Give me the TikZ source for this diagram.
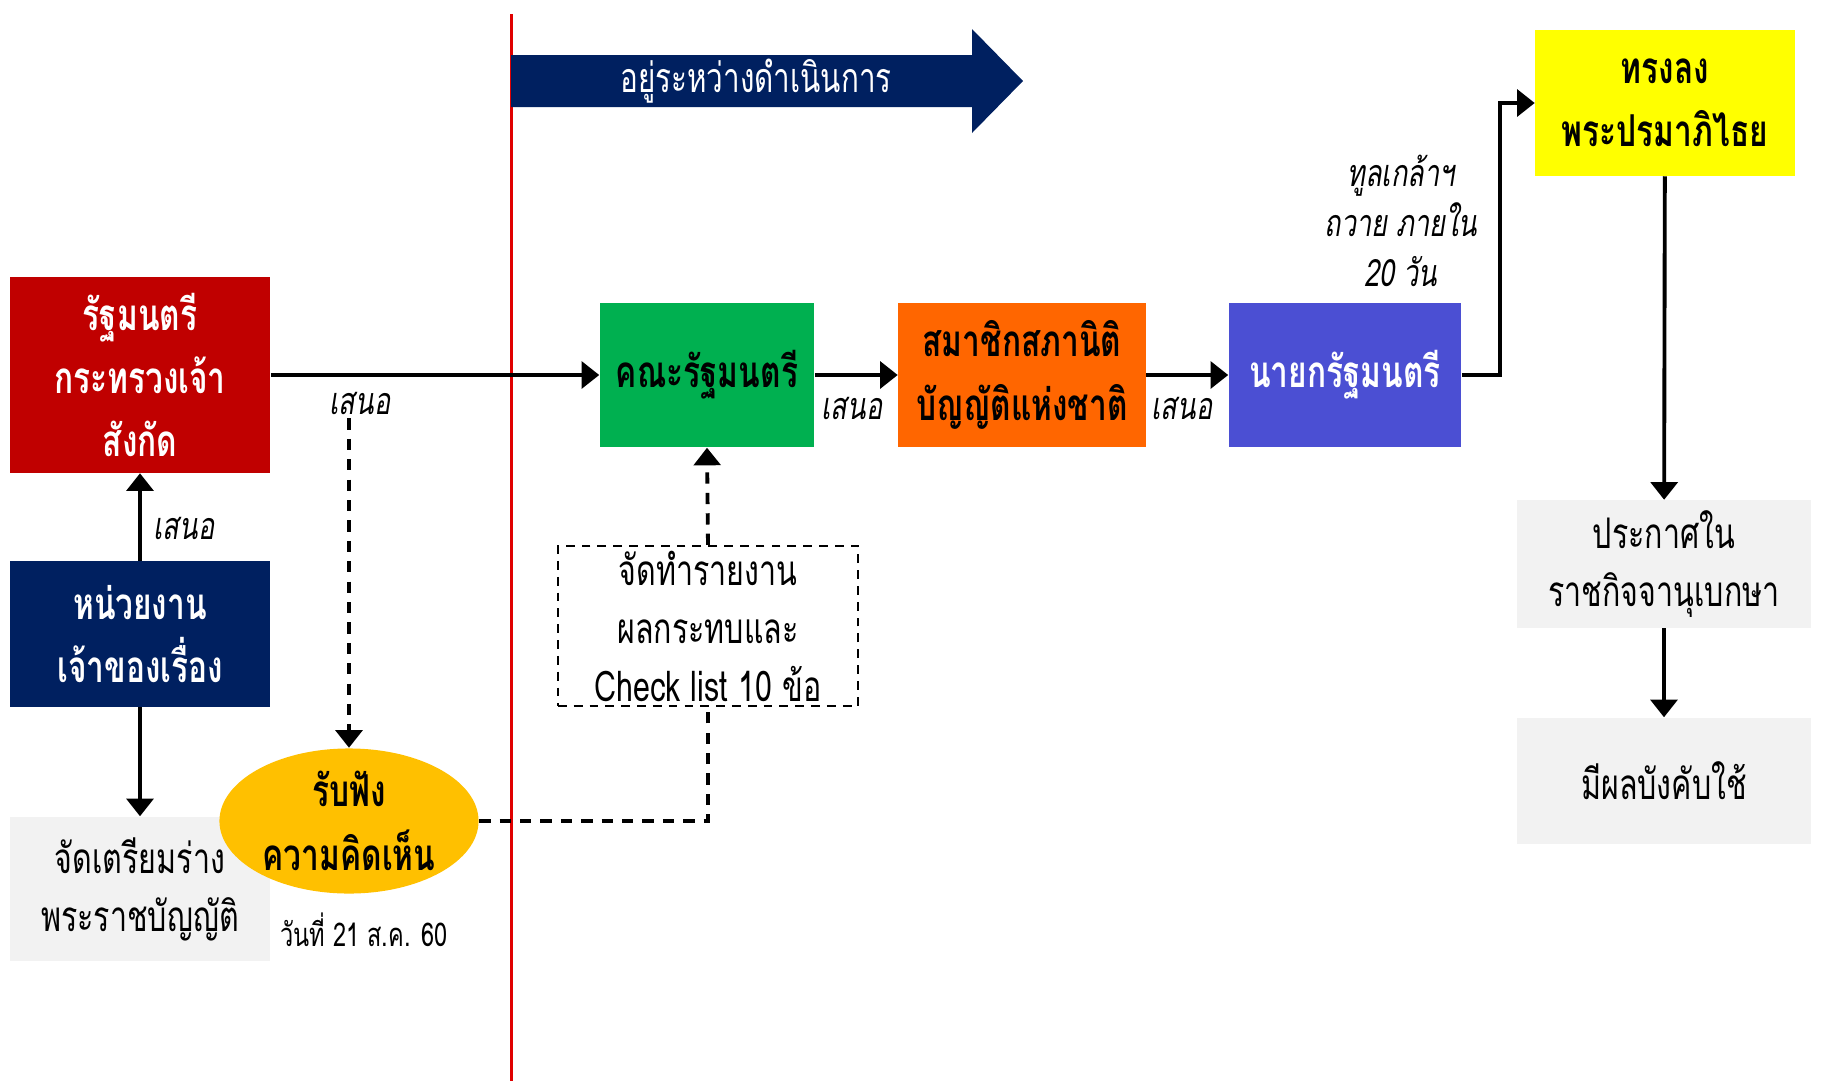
\documentclass[tikz,border=0pt]{standalone}
\usepackage{fontspec}
\setmainfont[Script=Thai, FakeStretch=0.72]{Loma}
\usetikzlibrary{arrows.meta, positioning, shapes.geometric}
\definecolor{ministryred}{HTML}{C00000}
\definecolor{navy}{HTML}{002060}
\definecolor{cabinetgreen}{HTML}{00B050}
\definecolor{nlaorange}{HTML}{FF6600}
\definecolor{pmblue}{HTML}{4B4FD3}
\definecolor{royalyellow}{HTML}{FFFF00}
\definecolor{paper}{HTML}{F2F2F2}
\definecolor{hearingamber}{HTML}{FFC000}
\definecolor{divider}{HTML}{E00000}

\begin{document}
\begin{tikzpicture}[x=0.01cm, y=-0.01cm,
  >={Triangle[width=7.6pt,length=5pt]},
  box/.style={rectangle, inner sep=0pt, align=center, font=\fontsize{12.5}{18}\selectfont\bfseries},
  graybox/.style={rectangle, fill=paper, inner sep=0pt, align=center, font=\fontsize{12}{16.5}\selectfont},
  lab/.style={inner sep=1pt, align=center, font=\fontsize{10.7}{14.2}\selectfont\itshape},
  link/.style={->, line width=1.1pt},
  dashlink/.style={line width=1.1pt, dash pattern=on 3.2pt off 2.6pt}]
  \useasboundingbox (0,0) rectangle (1823,1081);
  % time divider
  \draw[divider, line width=0.7pt] (511.5,14) -- (511.5,1081);
  % in progress banner
  \fill[navy] (511,55) -- (972,55) -- (972,29) -- (1023,81) -- (972,133) -- (972,107) -- (511,107) -- cycle;
  \node[text=white, font=\fontsize{11.7}{14}\selectfont] (status) at (756,81) {อยู่ระหว่างดำเนินการ};
  % left column
  \node[box, fill=ministryred, text=white, minimum width=2.6cm, minimum height=1.95cm] (minister) at (140,375) {รัฐมนตรี\\กระทรวงเจ้า\\สังกัด};
  \node[box, fill=navy, text=white, minimum width=2.6cm, minimum height=1.45cm] (agency) at (140,634) {หน่วยงาน\\เจ้าของเรื่อง};
  \node[graybox, minimum width=2.6cm, minimum height=1.44cm] (draft) at (140,889) {จัดเตรียมร่าง\\พระราชบัญญัติ};
  \node[ellipse, fill=hearingamber, inner sep=0pt, minimum width=2.59cm, minimum height=1.45cm, align=center, font=\fontsize{12.5}{18}\selectfont\bfseries] (hearing) at (349,821) {รับฟัง\\ความคิดเห็น};
  \node[font=\fontsize{9.3}{12}\selectfont] (date) at (364,930) {วันที่ 21 ส.ค. 60};
  % main chain
  \node[box, fill=cabinetgreen, minimum width=2.14cm, minimum height=1.44cm] (cabinet) at (707,375) {คณะรัฐมนตรี};
  \node[box, fill=nlaorange, minimum width=2.47cm, minimum height=1.44cm] (nla) at (1022,375) {สมาชิกสภานิติ\\บัญญัติแห่งชาติ};
  \node[box, fill=pmblue, text=white, minimum width=2.32cm, minimum height=1.44cm] (pm) at (1345,375) {นายกรัฐมนตรี};
  \node[box, fill=royalyellow, minimum width=2.59cm, minimum height=1.45cm] (king) at (1665,103) {ทรงลง\\พระปรมาภิไธย};
  \node[graybox, minimum width=2.94cm, minimum height=1.27cm] (gazette) at (1664,564) {ประกาศใน\\ราชกิจจานุเบกษา};
  \node[graybox, minimum width=2.94cm, minimum height=1.26cm] (inforce) at (1664,781) {มีผลบังคับใช้};
  \node[draw, dash pattern=on 2.5pt off 2pt, line width=0.6pt, inner sep=0pt, minimum width=3.0cm, minimum height=1.6cm, align=center, font=\fontsize{12}{16.5}\selectfont] (report) at (708,626) {จัดทำรายงาน\\ผลกระทบและ\\Check list 10 ข้อ};
  % labels
  \node[lab] (propose1) at (360,403) {เสนอ};
  \node[lab] (propose2) at (184,528) {เสนอ};
  \node[lab] (propose3) at (852,408) {เสนอ};
  \node[lab] (propose4) at (1182,408) {เสนอ};
  \node[lab] (submit) at (1401,221) {ทูลเกล้าฯ\\ถวาย ภายใน\\20 วัน};
  % connectors
  \draw[link] (agency) -- (minister);
  \draw[link] (agency) -- (draft);
  \draw[link] (minister) -- (cabinet);
  \draw[link] (cabinet) -- (nla);
  \draw[link] (nla) -- (pm);
  \draw[link] (pm.east) -- ++(38,0) |- (king.west);
  \draw[link] (king) -- (gazette);
  \draw[link] (gazette) -- (inforce);
  \draw[dashlink, ->] (hearing.north |- propose1.south) -- (hearing.north);
  \draw[dashlink] (hearing.east) -| (report.south);
  \draw[dashlink, ->] (report.north) -- (cabinet.south);
\end{tikzpicture}
\end{document}
